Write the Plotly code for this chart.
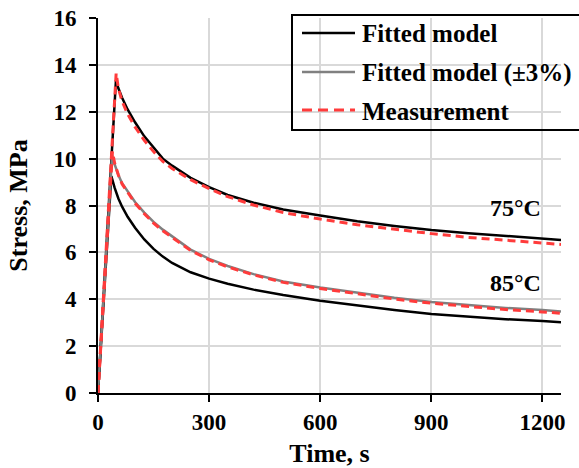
import plotly.graph_objects as go

# ---- data ----
t75_fit = [0, 48.5, 55, 65, 80, 100, 125, 150, 175, 200, 250, 300, 350, 420, 500, 600, 700, 800, 900, 1000, 1100, 1200, 1250]
s75_fit = [0, 13.35, 13.0, 12.6, 12.1, 11.55, 10.95, 10.45, 10.0, 9.7, 9.18, 8.78, 8.45, 8.12, 7.83, 7.57, 7.33, 7.13, 6.95, 6.82, 6.70, 6.60, 6.53]

t75_meas = [0, 49, 55, 65, 80, 100, 125, 150, 175, 200, 250, 300, 350, 420, 500, 600, 700, 800, 900, 1000, 1100, 1200, 1250]
s75_meas = [0, 13.64, 13.0, 12.45, 11.9, 11.35, 10.78, 10.3, 9.88, 9.58, 9.1, 8.72, 8.38, 8.02, 7.7, 7.42, 7.18, 6.98, 6.8, 6.64, 6.52, 6.41, 6.34]

t85_fit = [0, 36, 45, 55, 65, 80, 100, 125, 150, 175, 200, 250, 300, 350, 420, 500, 600, 700, 800, 900, 1000, 1100, 1200, 1250]
s85_fit = [0, 9.25, 8.75, 8.3, 7.95, 7.52, 7.05, 6.55, 6.15, 5.82, 5.55, 5.15, 4.88, 4.66, 4.41, 4.18, 3.94, 3.73, 3.54, 3.37, 3.25, 3.15, 3.07, 3.02]

t85_fit3 = [0, 38, 45, 55, 65, 80, 100, 125, 150, 175, 200, 250, 300, 350, 420, 500, 600, 700, 800, 900, 1000, 1100, 1200, 1250]
s85_fit3 = [0, 10.15, 9.75, 9.3, 8.95, 8.6, 8.15, 7.7, 7.3, 6.97, 6.68, 6.12, 5.72, 5.42, 5.07, 4.76, 4.5, 4.27, 4.06, 3.88, 3.74, 3.63, 3.54, 3.48]

t85_meas = [0, 39, 45, 55, 65, 80, 100, 125, 150, 175, 200, 250, 300, 350, 420, 500, 600, 700, 800, 900, 1000, 1100, 1200, 1250]
s85_meas = [0, 10.3, 9.8, 9.3, 8.92, 8.55, 8.1, 7.65, 7.25, 6.92, 6.63, 6.08, 5.68, 5.38, 5.04, 4.72, 4.46, 4.22, 4.01, 3.83, 3.68, 3.56, 3.46, 3.40]

x_ticks = [0, 300, 600, 900, 1200]
y_ticks = [0, 2, 4, 6, 8, 10, 12, 14, 16]
temp_labels = ["75°C", "85°C"]
temp_label_pos = [(1126, 7.89), (1126, 4.69)]
legend_names = ["Fitted model", "Fitted model (±3%)", "Measurement"]

FONT = "Liberation Serif, Times New Roman, serif"
BLACK = "#000000"
GRAY = "#808080"
RED = "#ff3b3b"
DASH = "8px,5px"

fig = go.Figure()
fig.add_trace(go.Scatter(x=t75_fit, y=s75_fit, mode="lines", name=legend_names[0],
                         line=dict(color=BLACK, width=2.5)))
fig.add_trace(go.Scatter(x=t85_fit, y=s85_fit, mode="lines", name=legend_names[0],
                         line=dict(color=BLACK, width=2.5)))
fig.add_trace(go.Scatter(x=t85_fit3, y=s85_fit3, mode="lines", name=legend_names[1],
                         line=dict(color=GRAY, width=2.5)))
fig.add_trace(go.Scatter(x=t75_meas, y=s75_meas, mode="lines", name=legend_names[2],
                         line=dict(color=RED, width=3, dash=DASH)))
fig.add_trace(go.Scatter(x=t85_meas, y=s85_meas, mode="lines", name=legend_names[2],
                         line=dict(color=RED, width=3, dash=DASH)))

for txt, (xx, yy) in zip(temp_labels, temp_label_pos):
    fig.add_annotation(x=xx, y=yy, text=txt, showarrow=False,
                       font=dict(family=FONT, size=24, color="black", weight="bold"))

# ---- legend box (drawn in paper coordinates, overflowing to the right like the original) ----
L, T, W, H = 98, 18, 463, 375  # plot area in px


def px_x(p):
    return (p - L) / W


def px_y(p):
    return (T + H - p) / H


fig.add_shape(type="rect", xref="paper", yref="paper",
              x0=px_x(292), x1=px_x(600), y0=px_y(130), y1=px_y(15),
              line=dict(color="black", width=2), fillcolor="rgba(0,0,0,0)", layer="above")
leg_styles = [dict(color=BLACK, width=2.5), dict(color=GRAY, width=2.5),
              dict(color=RED, width=3, dash="10px,6px")]
leg_y = [33, 72, 110]
for name, st, yy in zip(legend_names, leg_styles, leg_y):
    fig.add_shape(type="line", xref="paper", yref="paper",
                  x0=px_x(302), x1=px_x(355), y0=px_y(yy), y1=px_y(yy), line=st, layer="above")
    fig.add_annotation(xref="paper", yref="paper", x=px_x(360), y=px_y(yy + 1),
                       xanchor="left", yanchor="middle", text=name, showarrow=False,
                       font=dict(family=FONT, size=25, color="black", weight="bold"))

axis_common = dict(
    showline=True, linecolor="black", linewidth=2,
    ticks="outside", ticklen=7, tickwidth=2, tickcolor="black",
    showgrid=True, gridcolor="#d9d9d9", gridwidth=1.5,
    zeroline=False, automargin=False,
    tickfont=dict(family=FONT, size=23, color="black", weight="bold"),
)

fig.update_xaxes(range=[0, 1250], tickvals=x_ticks, **axis_common,
                 title=dict(text="Time, s", standoff=14,
                            font=dict(family=FONT, size=26, color="black", weight="bold")))
fig.update_yaxes(range=[0, 16], tickvals=y_ticks, ticklabelstandoff=8, **axis_common,
                 title=dict(text="Stress, MPa", standoff=18,
                            font=dict(family=FONT, size=26, color="black", weight="bold")))

fig.update_layout(
    width=579, height=468,
    margin=dict(l=98, r=18, t=18, b=75, autoexpand=False),
    plot_bgcolor="white", paper_bgcolor="white",
    showlegend=False,
)

fig.write_html("out.html", config={"displayModeBar": False},
               post_script="document.body.style.margin='0';")
